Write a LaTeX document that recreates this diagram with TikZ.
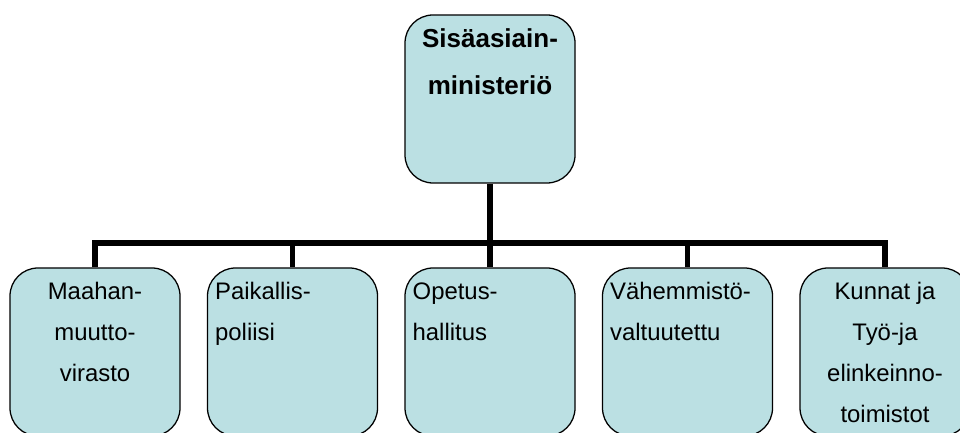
\documentclass[tikz,border=0pt]{standalone}
\usepackage{fontspec}
\setmainfont{Liberation Sans}
\usetikzlibrary{calc}
\definecolor{laatikko}{RGB}{187,224,227}
\tikzset{
  boksi/.style={draw=black, line width=0.9pt, fill=laatikko, rounded corners=0.7cm,
    minimum width=4.25cm, minimum height=4.2cm, inner sep=0pt},
  teksti/.style={inner sep=0pt, font=\fontsize{17}{29.2}\selectfont},
  otsikko/.style={inner sep=0pt, font=\bfseries\fontsize{18.5}{33.4}\selectfont, align=center},
  linja/.style={line width=3.8pt}
}

\begin{document}
\begin{tikzpicture}
	%%%%% START %%%%%
	\useasboundingbox (0,0) rectangle (24,10.8);
	\clip (0,0) rectangle (24,10.8);
	
	\node[boksi] (sisa) at (12.25,8.325) {};
	\node[otsikko, anchor=north] (sisateksti) at ($(sisa.north)+(0,-0.36)$) {\rule{0pt}{13pt}Sisäasiain-\\ministeriö};
	
	\node[boksi] (maahan) at (2.375,2) {};
	\node[boksi] (poliisi) at (7.3125,2) {};
	\node[boksi] (opetus) at (12.25,2) {};
	\node[boksi] (vahemmisto) at (17.1875,2) {};
	\node[boksi] (kunnat) at (22.125,2) {};
	
	\node[teksti, align=center, anchor=north] (maahanteksti) at ($(maahan.north)+(0,-0.37)$) {\rule{0pt}{12.3pt}Maahan-\\muutto-\\virasto};
	\node[teksti, align=left, anchor=north west] (poliisiteksti) at ($(poliisi.north west)+(0.2,-0.37)$) {\rule{0pt}{12.3pt}Paikallis-\\poliisi};
	\node[teksti, align=left, anchor=north west] (opetusteksti) at ($(opetus.north west)+(0.2,-0.37)$) {\rule{0pt}{12.3pt}Opetus-\\hallitus};
	\node[teksti, align=left, anchor=north west] (vahemmistoteksti) at ($(vahemmisto.north west)+(0.2,-0.37)$) {\rule{0pt}{12.3pt}Vähemmistö-\\valtuutettu};
	\node[teksti, align=center, anchor=north] (kunnatteksti) at ($(kunnat.north)+(0,-0.37)$) {\rule{0pt}{12.3pt}Kunnat ja\\Työ-ja\\elinkeinno-\\toimistot};
	
	\coordinate (vali) at (12.25,4.725);
	\draw[linja] (sisa.south) -- (vali);
	\draw[linja] (maahan.north) |- (vali) -| (kunnat.north);
	\foreach \b in {poliisi,opetus,vahemmisto}
		\draw[linja] (\b.north |- vali) -- (\b.north);
	
	%%%%% END %%%%%
\end{tikzpicture}
\end{document}
